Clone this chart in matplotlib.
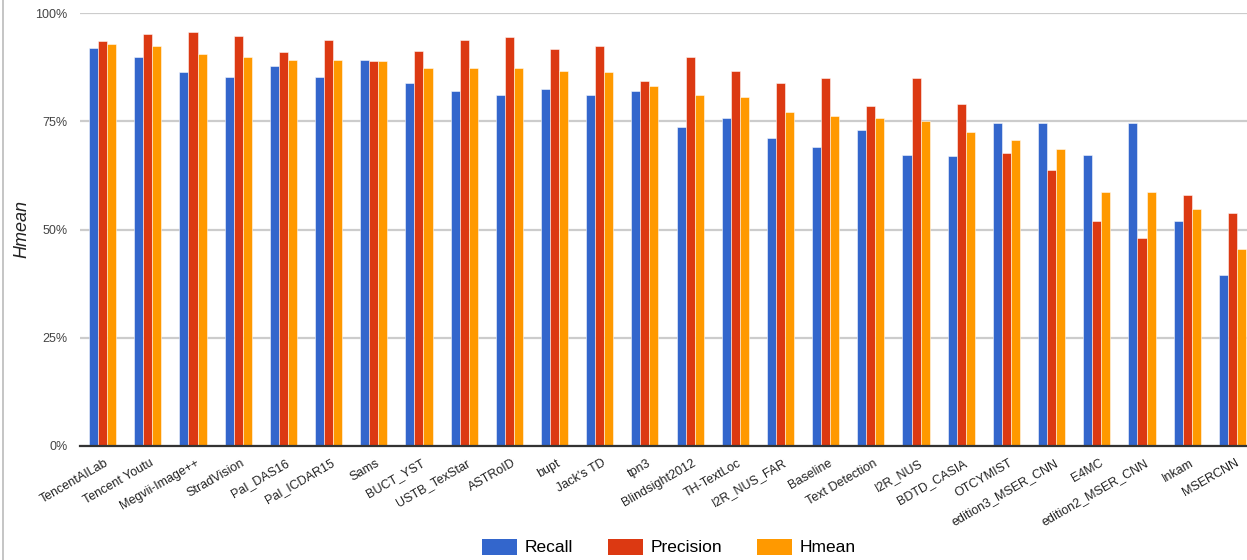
import numpy as np
import matplotlib
matplotlib.use("Agg")
import matplotlib.pyplot as plt
from matplotlib.patches import Patch
from matplotlib.lines import Line2D
from matplotlib.ticker import FuncFormatter

plt.rcParams["font.family"] = ["Liberation Sans", "DejaVu Sans"]

methods = [
    "TencentAILab", "Tencent Youtu", "Megvii-Image++", "StradVision", "Pal_DAS16",
    "Pal_ICDAR15", "Sams", "BUCT_YST", "USTB_TexStar", "ASTRoID", "bupt",
    "Jack's TD", "tpn3", "Blindsight2012", "TH-TextLoc", "I2R_NUS_FAR",
    "Baseline", "Text Detection", "I2R_NUS", "BDTD_CASIA", "OTCYMIST",
    "edition3_MSER_CNN", "E4MC", "edition2_MSER_CNN", "Inkam", "MSERCNN",
]
recall = [92.0, 89.8, 86.4, 85.3, 87.8, 85.3, 89.1, 83.8, 82.1, 81.1, 82.4,
          81.1, 82.1, 73.6, 75.8, 71.1, 69.0, 72.9, 67.2, 66.9, 74.7,
          74.7, 67.2, 74.7, 52.0, 39.6]
precision = [93.5, 95.2, 95.5, 94.8, 90.9, 93.8, 88.8, 91.3, 93.8, 94.5, 91.7,
             92.4, 84.3, 89.8, 86.7, 83.8, 84.9, 78.5, 84.9, 78.9, 67.6,
             63.7, 52.0, 48.0, 58.0, 53.7]
hmean = [92.8, 92.4, 90.6, 89.8, 89.1, 89.1, 88.8, 87.4, 87.4, 87.4, 86.7,
         86.4, 83.1, 81.1, 80.7, 77.1, 76.1, 75.8, 75.0, 72.5, 70.7,
         68.6, 58.7, 58.7, 54.7, 45.6]

series = [("Recall", recall, "#3366cc"),
          ("Precision", precision, "#dc3912"),
          ("Hmean", hmean, "#ff9900")]

fig = plt.figure(figsize=(12.47, 5.6), dpi=100)
# plot area runs past the right edge like the cropped screenshot
ax = fig.add_axes([80 / 1247, 114 / 560, 1175 / 1247, 433 / 560])

x = np.arange(len(methods))
w = 0.2
for i, (name, vals, col) in enumerate(series):
    ax.bar(x + (i - 1) * w, vals, width=w, color=col, edgecolor=(1, 1, 1, 0.6),
           linewidth=0.6, label=name, zorder=3)

ax.set_xlim(-0.5, len(methods) - 0.5)
ax.set_ylim(0, 100)
ax.set_yticks([0, 25, 50, 75, 100])
ax.yaxis.set_major_formatter(FuncFormatter(lambda v, p: f"{v:.0f}%"))
ax.tick_params(axis="y", length=0, pad=9, labelsize=9, labelcolor="#444444")
ax.grid(axis="y", color="#cccccc", linewidth=1.6, zorder=0)
ax.set_axisbelow(True)
for s in ["top", "right", "left"]:
    ax.spines[s].set_visible(False)
ax.spines["bottom"].set_color("#333333")
ax.spines["bottom"].set_linewidth(1.6)
ax.spines["bottom"].set_zorder(4)

ax.set_xticks(x + 0.05)
ax.set_xticklabels(methods, rotation=30, ha="right", va="top",
                   rotation_mode="anchor", fontsize=9, color="#222222")
ax.tick_params(axis="x", length=0, pad=8)

ax.set_ylabel("Hmean", fontsize=13, style="italic", color="#222222")
ax.yaxis.set_label_coords(-0.042, 0.5)

handles = [Patch(facecolor=col, edgecolor="none") for _, _, col in series]
fig.legend(handles, [s[0] for s in series], loc="center", ncol=3,
           bbox_to_anchor=(669 / 1247, 13 / 560), frameon=False, fontsize=12.5,
           handlelength=2.0, handleheight=1.05, handletextpad=0.45,
           columnspacing=2.0)

# spreadsheet edge at far left of the screenshot
fig.add_artist(Line2D([2.5 / 1247, 2.5 / 1247], [0, 1], color="#bbbbbb",
                      linewidth=1.2, transform=fig.transFigure))

fig.savefig("out.png", dpi=100)
